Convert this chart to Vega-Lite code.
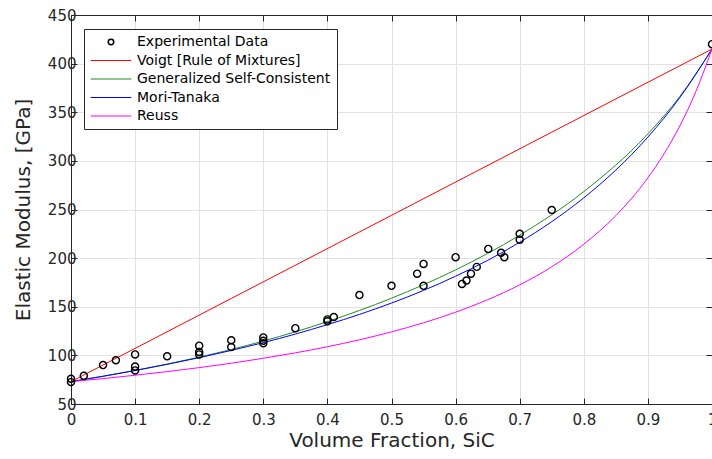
{
  "$schema": "https://vega.github.io/schema/vega-lite/v6.json",
  "width": 641,
  "height": 389,
  "autosize": {"type": "none"},
  "padding": {"left": 71, "top": 15, "right": 0, "bottom": 55},
  "background": "white",
  "config": {"view": {"stroke": null}, "font": "DejaVu Sans"},
  "datasets": {
    "curves": [
      {"series": "Voigt [Rule of Mixtures]", "x": 0, "y": 73},
      {"series": "Voigt [Rule of Mixtures]", "x": 0.25, "y": 158.5},
      {"series": "Voigt [Rule of Mixtures]", "x": 0.5, "y": 244},
      {"series": "Voigt [Rule of Mixtures]", "x": 0.75, "y": 329.5},
      {"series": "Voigt [Rule of Mixtures]", "x": 1, "y": 415},
      {"series": "Generalized Self-Consistent", "x": 0, "y": 73},
      {"series": "Generalized Self-Consistent", "x": 0.1, "y": 84.5},
      {"series": "Generalized Self-Consistent", "x": 0.2, "y": 98.2},
      {"series": "Generalized Self-Consistent", "x": 0.3, "y": 114.7},
      {"series": "Generalized Self-Consistent", "x": 0.4, "y": 134.7},
      {"series": "Generalized Self-Consistent", "x": 0.5, "y": 158.8},
      {"series": "Generalized Self-Consistent", "x": 0.6, "y": 187.9},
      {"series": "Generalized Self-Consistent", "x": 0.7, "y": 223.6},
      {"series": "Generalized Self-Consistent", "x": 0.8, "y": 268.4},
      {"series": "Generalized Self-Consistent", "x": 0.9, "y": 327.8},
      {"series": "Generalized Self-Consistent", "x": 0.95, "y": 366.4},
      {"series": "Generalized Self-Consistent", "x": 1, "y": 415},
      {"series": "Mori-Tanaka", "x": 0, "y": 73},
      {"series": "Mori-Tanaka", "x": 0.05, "y": 78.5},
      {"series": "Mori-Tanaka", "x": 0.1, "y": 84.4},
      {"series": "Mori-Tanaka", "x": 0.15, "y": 90.8},
      {"series": "Mori-Tanaka", "x": 0.2, "y": 97.6},
      {"series": "Mori-Tanaka", "x": 0.25, "y": 105.1},
      {"series": "Mori-Tanaka", "x": 0.3, "y": 113.1},
      {"series": "Mori-Tanaka", "x": 0.35, "y": 121.9},
      {"series": "Mori-Tanaka", "x": 0.4, "y": 131.6},
      {"series": "Mori-Tanaka", "x": 0.45, "y": 142.1},
      {"series": "Mori-Tanaka", "x": 0.5, "y": 153.8},
      {"series": "Mori-Tanaka", "x": 0.55, "y": 166.8},
      {"series": "Mori-Tanaka", "x": 0.6, "y": 181.4},
      {"series": "Mori-Tanaka", "x": 0.65, "y": 197.7},
      {"series": "Mori-Tanaka", "x": 0.7, "y": 216.3},
      {"series": "Mori-Tanaka", "x": 0.75, "y": 237.5},
      {"series": "Mori-Tanaka", "x": 0.8, "y": 262.0},
      {"series": "Mori-Tanaka", "x": 0.85, "y": 290.6},
      {"series": "Mori-Tanaka", "x": 0.9, "y": 324.5},
      {"series": "Mori-Tanaka", "x": 0.95, "y": 365.2},
      {"series": "Mori-Tanaka", "x": 1, "y": 415},
      {"series": "Reuss", "x": 0, "y": 73},
      {"series": "Reuss", "x": 0.05, "y": 76.1},
      {"series": "Reuss", "x": 0.1, "y": 79.6},
      {"series": "Reuss", "x": 0.15, "y": 83.3},
      {"series": "Reuss", "x": 0.2, "y": 87.4},
      {"series": "Reuss", "x": 0.25, "y": 91.9},
      {"series": "Reuss", "x": 0.3, "y": 97.0},
      {"series": "Reuss", "x": 0.35, "y": 102.6},
      {"series": "Reuss", "x": 0.4, "y": 108.9},
      {"series": "Reuss", "x": 0.45, "y": 116.0},
      {"series": "Reuss", "x": 0.5, "y": 124.2},
      {"series": "Reuss", "x": 0.55, "y": 133.5},
      {"series": "Reuss", "x": 0.6, "y": 144.4},
      {"series": "Reuss", "x": 0.65, "y": 157.2},
      {"series": "Reuss", "x": 0.7, "y": 172.5},
      {"series": "Reuss", "x": 0.75, "y": 191.1},
      {"series": "Reuss", "x": 0.8, "y": 214.3},
      {"series": "Reuss", "x": 0.85, "y": 243.7},
      {"series": "Reuss", "x": 0.875, "y": 261.7},
      {"series": "Reuss", "x": 0.9, "y": 282.6},
      {"series": "Reuss", "x": 0.925, "y": 307.1},
      {"series": "Reuss", "x": 0.95, "y": 336.2},
      {"series": "Reuss", "x": 0.975, "y": 371.5},
      {"series": "Reuss", "x": 1, "y": 415}
    ],
    "exp": [
      {"series": "Experimental Data", "x": 0, "y": 72.5},
      {"series": "Experimental Data", "x": 0, "y": 76},
      {"series": "Experimental Data", "x": 0.02, "y": 79},
      {"series": "Experimental Data", "x": 0.05, "y": 90},
      {"series": "Experimental Data", "x": 0.07, "y": 95},
      {"series": "Experimental Data", "x": 0.1, "y": 101},
      {"series": "Experimental Data", "x": 0.1, "y": 88.5},
      {"series": "Experimental Data", "x": 0.1, "y": 84.5},
      {"series": "Experimental Data", "x": 0.15, "y": 99},
      {"series": "Experimental Data", "x": 0.2, "y": 110},
      {"series": "Experimental Data", "x": 0.2, "y": 103.5},
      {"series": "Experimental Data", "x": 0.2, "y": 101},
      {"series": "Experimental Data", "x": 0.25, "y": 115.5},
      {"series": "Experimental Data", "x": 0.25, "y": 108.5},
      {"series": "Experimental Data", "x": 0.3, "y": 118.5},
      {"series": "Experimental Data", "x": 0.3, "y": 115},
      {"series": "Experimental Data", "x": 0.3, "y": 112.5},
      {"series": "Experimental Data", "x": 0.35, "y": 128},
      {"series": "Experimental Data", "x": 0.4, "y": 137},
      {"series": "Experimental Data", "x": 0.4, "y": 135},
      {"series": "Experimental Data", "x": 0.41, "y": 139.5},
      {"series": "Experimental Data", "x": 0.45, "y": 162},
      {"series": "Experimental Data", "x": 0.5, "y": 171.5},
      {"series": "Experimental Data", "x": 0.54, "y": 184},
      {"series": "Experimental Data", "x": 0.55, "y": 194},
      {"series": "Experimental Data", "x": 0.55, "y": 171.5},
      {"series": "Experimental Data", "x": 0.6, "y": 201},
      {"series": "Experimental Data", "x": 0.61, "y": 173.5},
      {"series": "Experimental Data", "x": 0.617, "y": 177},
      {"series": "Experimental Data", "x": 0.624, "y": 184},
      {"series": "Experimental Data", "x": 0.633, "y": 191},
      {"series": "Experimental Data", "x": 0.651, "y": 209.5},
      {"series": "Experimental Data", "x": 0.671, "y": 205.5},
      {"series": "Experimental Data", "x": 0.676, "y": 201},
      {"series": "Experimental Data", "x": 0.7, "y": 225},
      {"series": "Experimental Data", "x": 0.7, "y": 219},
      {"series": "Experimental Data", "x": 0.75, "y": 249.5},
      {"series": "Experimental Data", "x": 1, "y": 420}
    ]
  },
  "layer": [
    {
      "data": {"name": "curves"},
      "mark": {"type": "line", "strokeWidth": 1, "interpolate": "monotone", "clip": true},
      "encoding": {
        "x": {
          "field": "x", "type": "quantitative",
          "scale": {"domain": [0, 1], "nice": false, "zero": false},
          "axis": {
            "orient": "bottom",
            "values": [0, 0.1, 0.2, 0.3, 0.4, 0.5, 0.6, 0.7, 0.8, 0.9, 1],
            "format": "~g",
            "title": "Volume Fraction, SiC",
            "grid": true, "gridColor": "#e2e2e2", "gridWidth": 1,
            "domainColor": "#262626", "tickColor": "#262626", "tickSize": -6,
            "labelFontSize": 15, "labelColor": "#262626", "labelPadding": 14,
            "labelFlush": false, "labelOverlap": false,
            "titleFontSize": 20, "titleFontWeight": "normal", "titleColor": "#262626", "titlePadding": 3
          }
        },
        "y": {
          "field": "y", "type": "quantitative",
          "scale": {"domain": [50, 450], "nice": false, "zero": false},
          "axis": {
            "orient": "left",
            "values": [50, 100, 150, 200, 250, 300, 350, 400, 450],
            "title": "Elastic Modulus, [GPa]",
            "grid": true, "gridColor": "#e2e2e2", "gridWidth": 1,
            "domainColor": "#262626", "tickColor": "#262626", "tickSize": -6,
            "labelFontSize": 15, "labelColor": "#262626", "labelPadding": 1,
            "labelFlush": false, "labelOverlap": false,
            "titleFontSize": 20, "titleFontWeight": "normal", "titleColor": "#262626", "titlePadding": 14
          }
        },
        "color": {
          "field": "series", "type": "nominal",
          "scale": {
            "domain": ["Experimental Data", "Voigt [Rule of Mixtures]", "Generalized Self-Consistent", "Mori-Tanaka", "Reuss"],
            "range": ["#000000", "#ff0000", "#228b22", "#0000ff", "#ff00ff"]
          },
          "legend": {
            "title": null,
            "orient": "none", "legendX": 13, "legendY": 14,
            "fillColor": "white", "strokeColor": "#262626",
            "padding": 6,
            "labelFont": "DejaVu Sans", "labelFontSize": 14, "labelColor": "#000000", "labelLimit": 400,
            "symbolType": "stroke", "symbolSize": 196, "symbolStrokeWidth": 1,
            "symbolOffset": 14, "labelOffset": 19, "rowPadding": 4.5,
            "encode": {
              "symbols": {
                "update": {
                  "shape": {"signal": "datum.value === 'Experimental Data' ? 'circle' : 'stroke'"},
                  "size": {"signal": "datum.value === 'Experimental Data' ? 30 : 1650"},
                  "strokeWidth": {"signal": "datum.value === 'Experimental Data' ? 1.5 : 1"},
                  "stroke": {"scale": "color", "field": "value"},
                  "fill": {"value": "transparent"},
                  "opacity": {"value": 1}
                }
              }
            }
          }
        }
      }
    },
    {
      "data": {"name": "exp"},
      "mark": {"type": "point", "filled": false, "size": 50, "strokeWidth": 1.4, "opacity": 1},
      "encoding": {
        "x": {
          "field": "x", "type": "quantitative",
          "axis": {
            "orient": "top",
            "values": [0, 0.1, 0.2, 0.3, 0.4, 0.5, 0.6, 0.7, 0.8, 0.9, 1],
            "labels": false, "title": null, "grid": false,
            "domainColor": "#262626", "tickColor": "#262626", "tickSize": -6
          }
        },
        "y": {
          "field": "y", "type": "quantitative",
          "axis": {
            "orient": "right",
            "values": [50, 100, 150, 200, 250, 300, 350, 400, 450],
            "labels": false, "title": null, "grid": false,
            "domainColor": "#262626", "tickColor": "#262626", "tickSize": -6
          }
        },
        "color": {"field": "series", "type": "nominal"}
      }
    }
  ],
  "resolve": {"axis": {"x": "independent", "y": "independent"}}
}
